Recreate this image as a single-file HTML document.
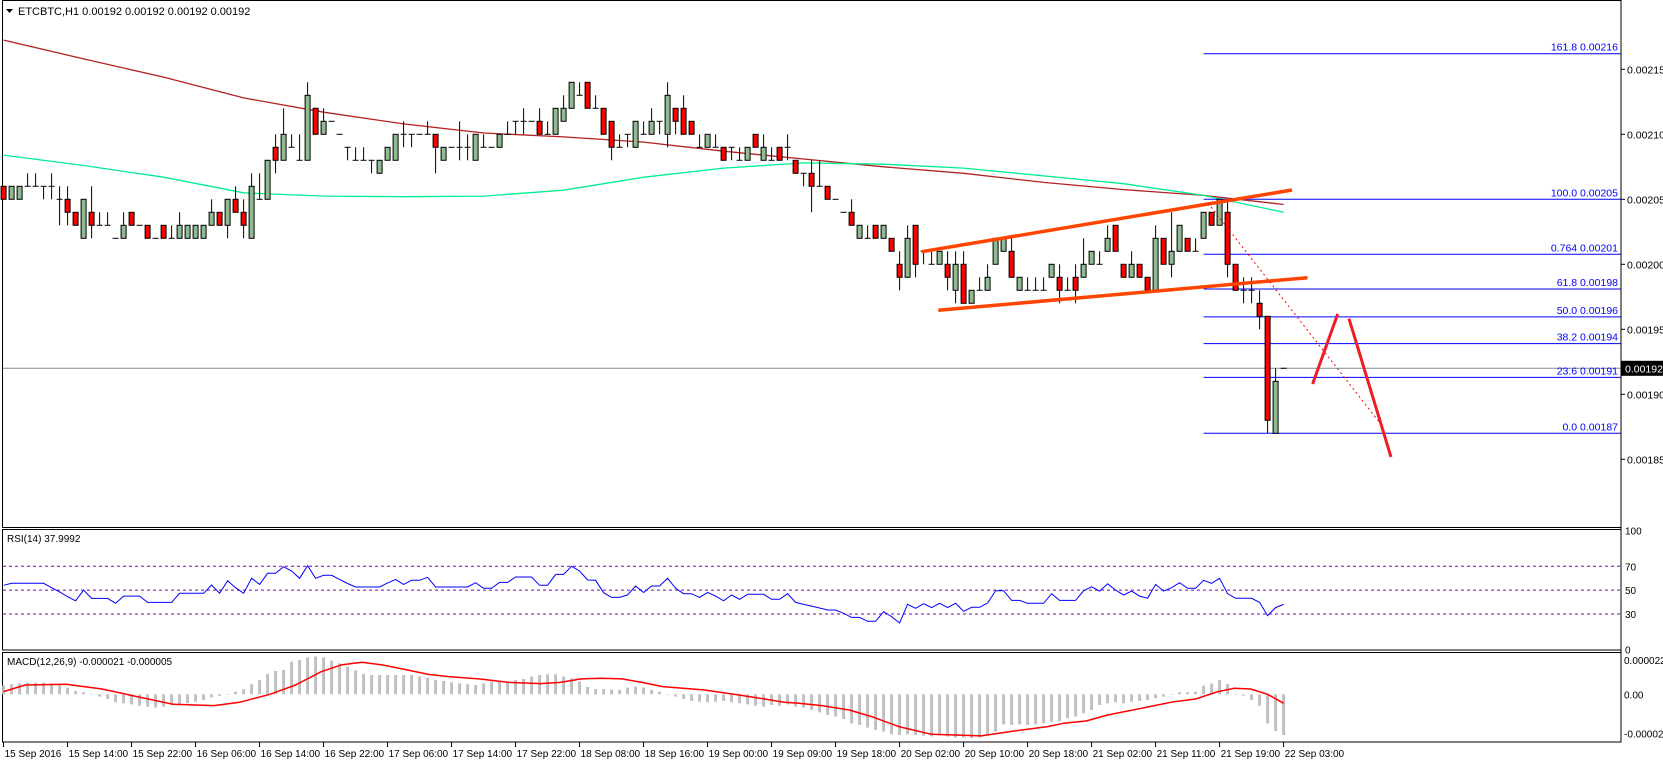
<!DOCTYPE html>
<html><head><meta charset="utf-8">
<style>
html,body{margin:0;padding:0;background:#fff;}
svg{display:block;font-family:"Liberation Sans",sans-serif;}
</style></head>
<body>
<svg id="chart" width="1663" height="763" viewBox="0 0 1663 763" xmlns="http://www.w3.org/2000/svg">
  <rect x="0" y="0" width="1663" height="763" fill="#fff"/>
  <g id="frame" stroke="#000" fill="none" stroke-width="1">
    <rect x="2.5" y="0.5" width="1618.5" height="527"/>
    <rect x="2.5" y="529.5" width="1618.5" height="120.5"/>
    <rect x="2.5" y="652.5" width="1618.5" height="89.5"/>
  </g>
  <g id="header">
    <path d="M6 9 L13 9 L9.5 13 Z" fill="#000"/>
    <text x="18" y="15" font-size="11" fill="#000">ETCBTC,H1  0.00192 0.00192 0.00192 0.00192</text>
    <text x="7" y="542" font-size="10" fill="#000">RSI(14) 37.9992</text>
    <text x="7" y="665" font-size="10" fill="#000">MACD(12,26,9) -0.000021 -0.000005</text>
  </g>
  <g id="main"></g>
  <g id="rsi"></g>
  <g id="macd"></g>
  <g id="axes"></g>
</svg>
<script>
// ---- data (prices in units of 0.00001) ----
const opens  = [206,205,205,206,206,206,206,205,205,204,202,204,203,203,202,202,204,203,203,202,203,202,202,202,202,202,203,204,203,205,204,202,205,205,209,208,209,208,208,212,210,211,210,209,208,208,208,207,208,208,210,210,210,210,210,208,209,209,209,208,209,209,209,210,211,211,211,211,210,210,211,212,213,214,212,212,211,209,210,209,210,210,211,210,212,212,211,209,209,209,209,209,208,208,210,208,208,209,209,208,207,207,206,206,205,204,204,202,202,203,202,202,200,199,203,201,200,200,200,198,200,197,198,198,200,201,201,198,198,198,198,199,199,198,199,199,200,200,201,203,200,199,200,199,198,202,200,201,202,201,202,204,203,204,200,198,198,197,196,187,192];
const highs  = [206,206,206,207,207,206,207,206,206,204,205,206,204,204,202,204,204,203,203,202,203,203,204,203,203,203,205,204,205,206,205,207,207,208,210,212,210,210,214,212,212,211,210,209,209,209,208,208,209,210,211,210,210,211,210,209,209,211,210,210,210,209,210,211,211,212,211,212,211,212,213,214,214,214,213,212,211,210,210,211,211,212,211,214,212,213,211,210,210,210,209,209,209,209,210,210,209,209,210,208,207,208,208,206,205,204,205,203,203,203,203,202,201,203,203,201,201,201,201,201,201,198,199,200,202,202,202,199,199,199,199,200,200,199,200,202,201,201,203,203,200,201,200,199,203,202,204,203,202,202,204,204,205,205,200,199,199,198,196,192,192];
const lows   = [205,205,205,206,206,205,205,203,203,203,202,202,203,203,202,202,203,203,202,202,202,202,202,202,202,202,203,203,202,204,202,202,205,205,207,208,209,208,208,210,210,211,210,208,208,208,207,207,208,208,209,209,210,210,207,208,209,208,208,208,209,209,209,210,210,210,211,210,210,210,211,212,213,212,212,210,208,209,209,209,210,210,210,209,210,210,210,209,209,209,208,208,208,208,209,208,208,208,208,207,206,204,206,205,205,204,203,202,202,202,202,201,198,199,199,200,200,200,198,197,197,197,198,198,200,201,199,198,198,198,198,199,197,198,197,199,200,200,201,201,199,199,199,198,198,200,199,201,201,201,202,203,203,199,198,197,197,195,187,187,192];
const closes = [205,206,206,206,206,206,206,205,204,203,205,203,203,203,202,203,203,203,202,202,202,202,203,203,203,203,204,203,205,204,203,206,205,208,208,210,209,208,213,210,211,211,210,209,208,208,208,208,209,210,210,210,210,210,209,209,209,209,209,210,209,209,210,210,211,211,211,210,210,212,212,214,213,212,212,210,209,209,210,211,210,211,211,213,211,210,210,209,210,209,208,209,208,209,209,209,208,208,209,207,207,206,206,205,205,204,203,203,202,202,203,201,199,202,200,201,200,201,199,200,197,198,198,199,202,202,199,199,198,198,198,200,198,198,198,200,201,200,202,201,199,200,199,198,202,200,201,203,201,201,204,203,205,200,198,198,198,196,188,191,192];
// moving averages sampled every 10 bars
const maIdx   = [0,10,20,30,40,50,60,70,80,90,100,110,120,130,140,150,160];
const maSlow  = [217.25,215.8,214.4,212.8,211.7,210.8,210.1,209.8,209.4,208.7,208.1,207.5,207.0,206.3,205.75,205.3,204.6];
const maFast  = [208.4,207.6,206.7,205.5,205.25,205.2,205.25,205.7,206.7,207.4,207.8,207.7,207.4,206.8,206.2,205.3,204.0];
// fibonacci
const fibLevels = ["161.8","100.0","0.764","61.8","50.0","38.2","23.6","0.0"];
const fibPrices = [216.2,205,200.77,198.1,195.96,193.9,191.3,187];
const fibLabels = ["0.00216","0.00205","0.00201","0.00198","0.00196","0.00194","0.00191","0.00187"];
// RSI per bar
const rsiVals = [54,55.7,55.7,55.7,55.7,55.7,52,48.5,44.5,41,50,43,43,43,39,45,45,45,39.7,39.7,39.7,39.7,47.3,47.3,47.3,47.3,54.3,47.3,57.9,52,47.3,59.9,54.8,64.1,64.1,69.6,66,59.9,70.5,59.9,62.4,62.4,59,55.5,52.6,52.6,52.6,52.6,56,59,54.8,58.2,58.2,60.7,52.6,52.6,52.6,52.6,52.6,56.2,51.5,51.5,56.5,56.5,61,61,61,54,54,63.2,63.2,70,66,58.5,58.2,47.8,43.9,43.9,46,53.4,48,53.4,53.4,59.9,51.5,47,47,43.9,48.1,45,41,45.9,42.3,46.5,46.5,46.5,42.3,42.3,47,39.7,38,36.6,35,33.3,33.3,30.5,27.1,27.1,23.8,23.8,31.9,27.7,22.4,38.1,34.7,38.6,35.3,38.9,35.3,38.9,32.2,35.6,35.6,39.2,49.5,49.5,41.4,41.4,38.9,38.9,38.9,47,41.4,41.4,41.4,49.5,52.8,49.2,55.3,50,45.9,49.2,45,43.1,54.8,49.2,52,56.2,51.5,51.5,58.2,55.7,59.9,47,43.1,43.1,43.1,39.7,28.5,35.3,38];
const rsiLevels = [70,50,30];
const rsiTicks = ["100","70","50","30","0"];
const rsiTickVals = [100,70,50,30,0];
// MACD histogram per bar (units 1e-6)
const macdHist = [5.5,6.4,7,7.4,7.4,7.4,7,6,4.2,2.1,1.3,0,-1.5,-3,-5.1,-5.7,-6.4,-7.2,-8,-8.5,-7.8,-6.8,-6.4,-5.7,-4.7,-3.6,-1.9,-1,0,1.7,3.2,6.4,9.1,13,14.9,15.5,20.8,21.9,23.4,24,23.4,21.4,19.7,17.6,15.1,13,12.3,12.3,12.3,12.3,12.3,12.3,11.3,10.6,9.1,8.5,7.6,7,6.4,5.9,7,8.1,8.7,8.1,9.1,9.8,11.3,12.3,12.7,12.7,11.3,10.2,8.1,4.7,3.4,3.4,3,2.8,4.2,4.9,4.2,2.8,1.7,0,-1.5,-3,-4.2,-4.7,-5.1,-4.7,-4.2,-5.1,-5.7,-6.4,-7.2,-7.8,-6.8,-7.2,-6.4,-7.8,-8.5,-10,-11.5,-13.2,-14.2,-15.7,-18.5,-19.5,-21.2,-22.7,-23.8,-25.5,-25.9,-25.5,-25.9,-26.3,-26.8,-26.3,-27,-27.6,-27.6,-28,-27.6,-25.9,-23.8,-19.1,-19.5,-19.1,-19.5,-19.1,-18.5,-17.4,-17,-15.3,-14.2,-12.1,-10,-6.8,-5.7,-5.1,-5.7,-4.7,-4.2,-3.6,-2.5,-1.5,0,1.3,1.3,1.7,5.5,6.8,9.1,6.6,0,-0.8,-3.6,-7.2,-18.5,-23.4,-25.9];
const sigIdx = [0,2.7,7.8,12.3,16.1,21.2,26.3,29.5,33.3,36.5,39.7,42.2,44.8,47.3,50.5,53.1,55.6,59.4,63.2,67.1,69.6,72.2,74.7,77.3,79.8,82.4,84.9,87.5,91.3,95.1,97.6,99.4,102.3,105.7,108.5,111.9,116,122.2,126.3,130.5,132.5,135.3,138,142.2,146.3,149,151.8,153.8,155.9,158,160];
const sigVal = [1.7,5.9,6.4,3.4,-0.8,-6.4,-7.2,-5.1,0,5.9,14.4,18.7,20.4,18.7,15.5,12.7,11.3,9.8,7.6,6.8,7.6,9.8,10.2,9.8,7.6,4.9,3.8,2.8,0,-3,-5.1,-5.7,-7.2,-10,-14.2,-20.6,-25.5,-26.5,-23.4,-20.6,-18.5,-17,-13.2,-8.9,-4.7,-3,1.7,3.8,3.4,0,-5.7];
const priceTicks = [215,210,205,200,195,190,185];
const timeLabels = ["15 Sep 2016","15 Sep 14:00","15 Sep 22:00","16 Sep 06:00","16 Sep 14:00","16 Sep 22:00","17 Sep 06:00","17 Sep 14:00","17 Sep 22:00","18 Sep 08:00","18 Sep 16:00","19 Sep 00:00","19 Sep 09:00","19 Sep 18:00","20 Sep 02:00","20 Sep 10:00","20 Sep 18:00","21 Sep 02:00","21 Sep 11:00","21 Sep 19:00","22 Sep 03:00"];
const lastPrice = 192;

// ---- axis functions ----
const NS = "http://www.w3.org/2000/svg";
const xb = i => 3.6 + 8 * i;
const yp = p => 264.3 - (p - 200) * 13;
const yr = v => 649.7 - 1.192 * v;
const ym = v => 694.3 - 1.57 * v;
function mk(tag, attrs, parent) {
  const e = document.createElementNS(NS, tag);
  for (const k in attrs) e.setAttribute(k, attrs[k]);
  parent.appendChild(e);
  return e;
}
const gMain = document.getElementById('main');
const gRsi = document.getElementById('rsi');
const gMacd = document.getElementById('macd');
const gAx = document.getElementById('axes');

// current price line
let cp = mk('line', {x1: 3, x2: 1621, y1: yp(lastPrice), y2: yp(lastPrice), stroke: '#7f8c99', 'stroke-width': 1}, gMain);



// moving averages
function maLine(vals, color, name) {
  const pts = maIdx.map((ix, k) => xb(ix).toFixed(1) + ',' + yp(vals[k]).toFixed(1)).join(' ');
  const l = mk('polyline', {points: pts, fill: 'none', stroke: color, 'stroke-width': 1.3}, gMain);
  
  
}
maLine(maSlow, '#b22222', 'slow-moving-average');
maLine(maFast, '#00ee90', 'fast-moving-average');

// fibonacci
fibPrices.forEach((p, k) => {
  const ln = mk('line', {x1: xb(150), x2: 1621, y1: yp(p), y2: yp(p), stroke: '#0000ff', 'stroke-width': 1}, gMain);
  
  
  const t = mk('text', {x: 1618, y: yp(p) - 3, 'font-size': 10.5, fill: '#0000ff', 'text-anchor': 'end'}, gMain);
  t.textContent = fibLevels[k] + '  ' + fibLabels[k];
  
  
});

// candles
for (let i = 0; i < opens.length; i++) {
  const x = xb(i), o = opens[i], c = closes[i];
  const g = mk('g', {}, gMain);
  
  
  mk('line', {x1: x, x2: x, y1: yp(highs[i]), y2: yp(lows[i]), stroke: '#000', 'stroke-width': 1}, g);
  if (o === c) {
    mk('line', {x1: x - 3, x2: x + 3, y1: yp(o), y2: yp(o), stroke: '#000', 'stroke-width': 1}, g);
  } else {
    const top = yp(Math.max(o, c)), bot = yp(Math.min(o, c));
    mk('rect', {x: x - 2.5, y: top, width: 5, height: bot - top, fill: c > o ? '#8fbc8f' : '#ff0000', stroke: '#000', 'stroke-width': 1}, g);
  }
}

// drawn trend lines
const drawings = [
  ['channel-upper-line', 921.7, 251.7, 1292, 190, '#ff4500', 3.5, null],
  ['channel-lower-line', 938.3, 310.3, 1307.5, 277.7, '#ff4500', 3.5, null],
  ['projection-dotted-line', 1208, 203, 1380, 423, '#ff0000', 1, '2,3'],
  ['projection-up-leg', 1312.6, 384, 1337.7, 314, '#ee1c25', 3, null],
  ['projection-down-leg', 1349, 318.7, 1391, 457, '#ee1c25', 3, null]
];
drawings.forEach(d => {
  const a = {x1: d[1], y1: d[2], x2: d[3], y2: d[4], stroke: d[5], 'stroke-width': d[6]};
  if (d[7]) a['stroke-dasharray'] = d[7];
  const l = mk('line', a, gMain);
  
  
});

// RSI
rsiLevels.forEach(v => {
  const l = mk('line', {x1: 3, x2: 1621, y1: yr(v), y2: yr(v), stroke: '#8000c0', 'stroke-width': 1, 'stroke-dasharray': '3,3'}, gRsi);
  
  
});
const rsiPts = rsiVals.map((v, i) => xb(i).toFixed(1) + ',' + yr(v).toFixed(1)).join(' ');
const rl = mk('polyline', {points: rsiPts, fill: 'none', stroke: '#0000ff', 'stroke-width': 1}, gRsi);



// MACD
macdHist.forEach((v, i) => {
  const y0 = ym(0), y1 = ym(v);
  const r = mk('rect', {x: xb(i) - 1.5, y: Math.min(y0, y1), width: 3, height: Math.max(0.5, Math.abs(y1 - y0)), fill: '#c0c0c0'}, gMacd);
  
  
});
const sigPts = sigIdx.map((ix, k) => xb(ix).toFixed(1) + ',' + ym(sigVal[k]).toFixed(1)).join(' ');
const sl = mk('polyline', {points: sigPts, fill: 'none', stroke: '#ff0000', 'stroke-width': 1.5, 'stroke-linejoin': 'round'}, gMacd);



// axes
const axL = mk('line', {x1: 1621, x2: 1621, y1: 0, y2: 742, stroke: '#000', 'stroke-width': 1}, gAx);


priceTicks.forEach(p => {
  mk('line', {x1: 1621, x2: 1625, y1: yp(p), y2: yp(p), stroke: '#000'}, gAx);
  const t = mk('text', {x: 1627, y: yp(p) + 4, 'font-size': 10.5, fill: '#000'}, gAx);
  t.textContent = (p / 100000).toFixed(5);
  
  
});
const pb = mk('rect', {x: 1621, y: yp(lastPrice) - 7.5, width: 42, height: 15, fill: '#000'}, gAx);


const pt = mk('text', {x: 1625, y: yp(lastPrice) + 4, 'font-size': 10.5, fill: '#fff'}, gAx);
pt.textContent = (lastPrice / 100000).toFixed(5);


rsiTickVals.forEach((v, k) => {
  const t = mk('text', {x: 1625, y: yr(v) + 4, 'font-size': 10, fill: '#000'}, gAx);
  t.textContent = rsiTicks[k];
  
  
});
[[22, '0.000022'], [0, '0.00'], [-25, '-0.000025']].forEach(m => {
  const t = mk('text', {x: 1624, y: ym(m[0]) + 4, 'font-size': 10, fill: '#000'}, gAx);
  t.textContent = m[1];
  
  
});
timeLabels.forEach((s, k) => {
  const x = xb(8 * k);
  mk('line', {x1: x, x2: x, y1: 742, y2: 747, stroke: '#000'}, gAx);
  const t = mk('text', {x: x + 1, y: 757, 'font-size': 10, fill: '#000'}, gAx);
  t.textContent = s;
  
  
});
</script>
</body></html>
